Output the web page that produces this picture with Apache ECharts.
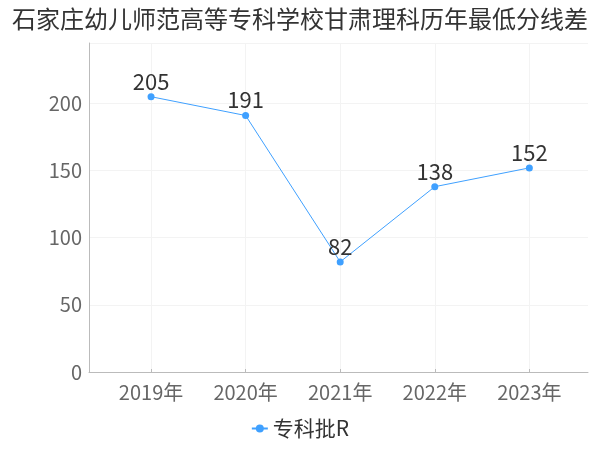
<!DOCTYPE html>
<html><head><meta charset="utf-8">
<script src="https://cdn.jsdelivr.net/npm/echarts@6/dist/echarts.min.js"></script>
<style>html,body{margin:0;padding:0;background:#fff}#c{width:600px;height:450px}</style>
</head><body><div id="c"></div>
<script>
var titleText = '石家庄幼儿师范高等专科学校甘肃理科历年最低分线差';
var years = [2019, 2020, 2021, 2022, 2023];
var values = [205, 191, 82, 138, 152];
var seriesName = '专科批R';
var yTicks = [0, 50, 100, 150, 200];

var font = '"Noto Sans CJK SC", "Noto Sans", sans-serif';
var chart = echarts.init(document.getElementById('c'));
chart.setOption({
  animation: false,
  title: { text: titleText, left: 'center', top: 2,
    textStyle: { fontSize: 24, fontWeight: 'normal', color: '#333', fontFamily: font } },
  legend: { bottom: 6, left: 'center', itemWidth: 16, itemHeight: 10, itemGap: 10,
    textStyle: { fontSize: 21, color: '#333', fontFamily: font },
    data: [seriesName] },
  grid: { left: 89, right: 12, top: 43, bottom: 78, containLabel: false },
  xAxis: { type: 'value', min: 2018.344, max: 2023.62,
    axisLine: { show: true, lineStyle: { color: '#bbb' } },
    axisTick: { show: true, customValues: years, inside: true, length: 3, lineStyle: { color: '#bbb' } },
    splitLine: { show: true, customValues: years.concat([2023.62]), lineStyle: { color: '#f3f3f3' } },
    axisLabel: { customValues: years, fontSize: 20, color: '#666', fontFamily: font, margin: 10,
      formatter: function (v) { return Math.round(v) + '年'; } } },
  yAxis: { type: 'value', min: 0, max: 245, interval: 50,
    axisLine: { show: true, lineStyle: { color: '#bbb' } },
    axisTick: { show: false },
    splitLine: { show: true, lineStyle: { color: '#f3f3f3' } },
    axisLabel: { showMaxLabel: false, fontSize: 20, color: '#666', fontFamily: font, margin: 7,
      formatter: function (v) { return yTicks.indexOf(v) >= 0 ? String(v) : ''; } } },
  series: [{ name: seriesName, type: 'line',
    data: years.map(function (y, i) { return [y, values[i]]; }),
    symbol: 'circle', symbolSize: 7,
    itemStyle: { color: '#3fa0ff' }, lineStyle: { color: '#3fa0ff', width: 1 },
    label: { show: true, position: 'top', distance: 1, fontSize: 22, color: '#333', fontFamily: font } }]
});
</script></body></html>
